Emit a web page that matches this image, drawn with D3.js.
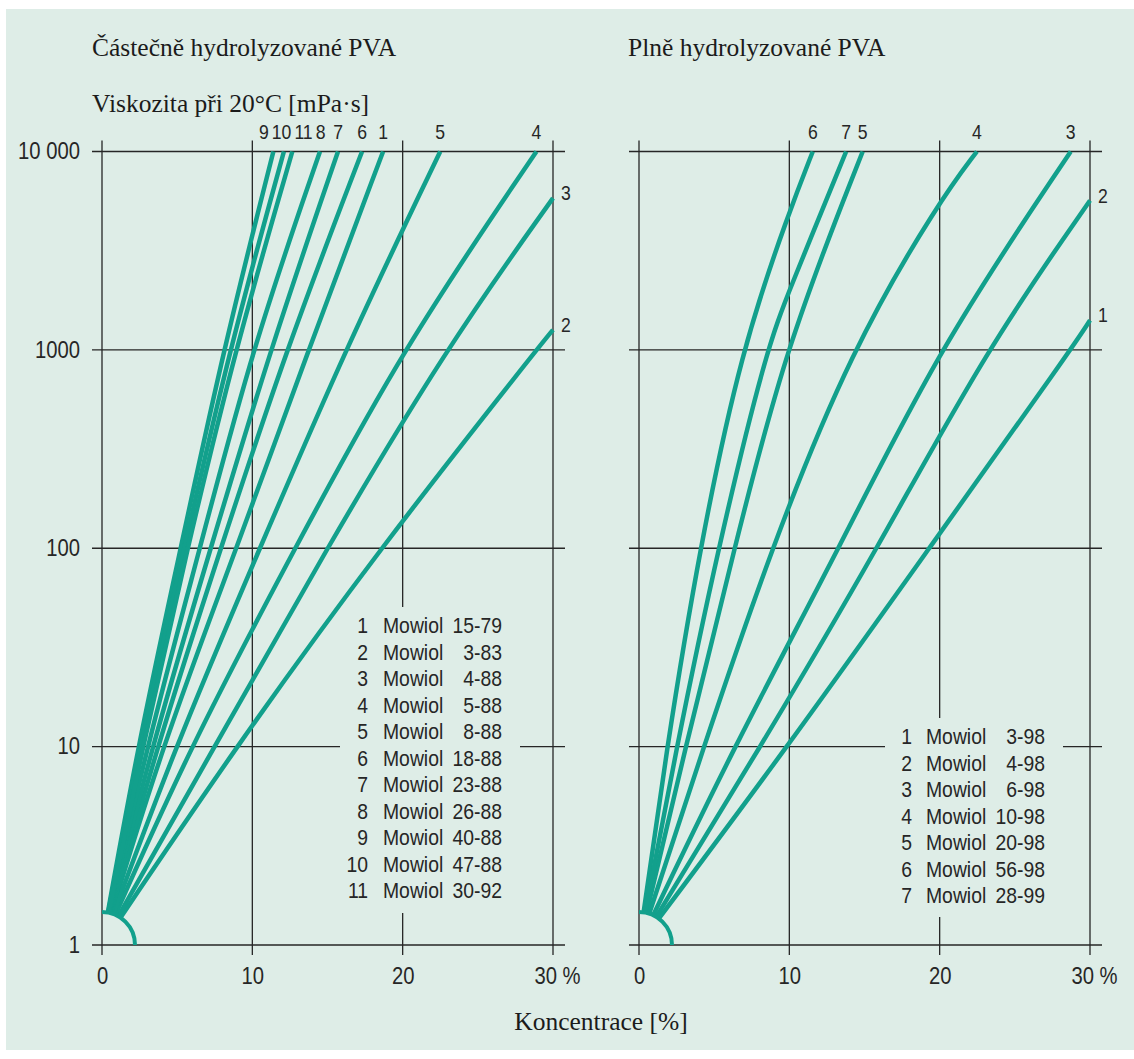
<!DOCTYPE html>
<html lang="cs">
<head>
<meta charset="UTF-8">
<title>Viskozita Mowiol</title>
<script src="https://cdn.jsdelivr.net/npm/d3@7"></script>
<style>
    html, body {
        margin: 0;
        background: #fff;
    }
    .serif { font-family: "Liberation Serif", "DejaVu Serif", serif; fill: #1b1b1b; }
    .cond { font-family: "Liberation Sans", Arial, sans-serif; fill: #262626; }
</style>
</head>
<body>
<script>

    // ---- data ----
    var yTicks = [1, 10, 100, 1000, 10000];
    var yTickLabels = ["1", "10", "100", "1000", "10 000"];
    var xTicks = [0, 10, 20, 30];
    var xTickLabels = ["0", "10", "20", "30 %"];

    // concentration [%], viscosity [mPa·s]
    var leftIds = [1, 2, 3, 4, 5, 6, 7, 8, 9, 10, 11];
    var leftCodes = ["15-79", "3-83", "4-88", "5-88", "8-88", "18-88", "23-88", "26-88", "40-88", "47-88", "30-92"];
    var leftCurves = [
        [[0, 1], [3.97, 10], [8.96, 100], [13.73, 1000], [18.7, 10000]],
        [[0, 1], [8.9, 10], [18.5, 100], [28.9, 1000], [30, 1262]],
        [[0, 1], [7.5, 10], [14.95, 100], [22.82, 1000], [30, 5820]],
        [[0, 1], [5.85, 10], [12.84, 100], [19.94, 1000], [28.9, 10000]],
        [[0, 1], [4.86, 10], [10.5, 100], [16.17, 1000], [22.5, 10000]],
        [[0, 1], [3.64, 10], [7.9, 100], [12.24, 1000], [17.3, 10000]],
        [[0, 1], [3.3, 10], [7.23, 100], [11.18, 1000], [15.7, 10000]],
        [[0, 1], [2.97, 10], [6.52, 100], [9.96, 1000], [14.5, 10000]],
        [[0, 1], [2.37, 10], [5.24, 100], [8.07, 1000], [11.4, 10000]],
        [[0, 1], [2.53, 10], [5.46, 100], [8.47, 1000], [12.1, 10000]],
        [[0, 1], [2.7, 10], [5.68, 100], [8.85, 1000], [12.66, 10000]]
    ];

    var rightIds = [1, 2, 3, 4, 5, 6, 7];
    var rightCodes = ["3-98", "4-98", "6-98", "10-98", "20-98", "56-98", "28-99"];
    var rightCurves = [
        [[0, 1], [9.9, 10], [19.3, 100], [28.72, 1000], [30, 1409]],
        [[0, 1], [8.1, 10], [15.88, 100], [23.08, 1000], [30, 5660]],
        [[0, 1], [6.3, 10], [13.33, 100], [19.87, 1000], [28.72, 10000]],
        [[0, 1], [4.3, 10], [8.79, 100], [14.1, 1000], [20, 5660], [22.48, 10000]],
        [[0, 1], [3.1, 10], [6.36, 100], [9.68, 1000], [14.88, 10000]],
        [[0, 1], [1.85, 10], [4.03, 100], [6.8, 1000], [10, 5000], [11.56, 10000]],
        [[0, 1], [2.5, 10], [5.25, 100], [8.46, 1000], [10, 2000], [13.78, 10000]]
    ];

    var titleLeft = "Částečně hydrolyzované PVA";
    var titleRight = "Plně hydrolyzované PVA";
    var yTitle = "Viskozita při 20°C [mPa·s]";
    var xTitle = "Koncentrace [%]";

    // ---- layout ----
    var width = 1134, height = 1059;
    var bg = "#deede7", ink = "#262626", teal = "#12a08c";
    var SX = 0.88; // horizontal squeeze -> condensed look

    var y = d3.scaleLog().domain([1, 10000]).range([945, 151.5]);

    var panels = [
        {ids: leftIds, codes: leftCodes, curves: leftCurves, x: d3.scaleLinear().domain([0, 30]).range([102, 553]),
            legend: {numX: 368, nameX: 383, codeX: 502, top: 633, box: [340, 607, 180, 306]}},
        {ids: rightIds, codes: rightCodes, curves: rightCurves, x: d3.scaleLinear().domain([0, 30]).range([639, 1090]),
            legend: {numX: 912, nameX: 926, codeX: 1045, top: 744, box: [885, 718, 178, 199]}}
    ];

    function cond(sel, size) {
        return sel.attr("class", "cond").style("font-size", size + "px").attr("transform", "scale(" + SX + ",1)");
    }

    var svg = d3.select("body").append("svg").attr("width", width).attr("height", height);
    svg.append("rect").attr("x", 6).attr("y", 9).attr("width", width - 6).attr("height", 1041).attr("fill", bg);

    var defs = svg.append("defs");
    var arcR = 33;

    var line = d3.line().curve(d3.curveBasis);

    panels.forEach(function (p, pi) {
        var x = p.x;
        var g = svg.append("g");
        var xa = x.range()[0], xb = x.range()[1];

        // grid
        g.selectAll("line.h").data(yTicks).enter().append("line")
            .attr("x1", xa - 10).attr("x2", xb + 12)
            .attr("y1", function (d) { return y(d); }).attr("y2", function (d) { return y(d); })
            .attr("stroke", ink).attr("stroke-width", 1.3);
        g.selectAll("line.v").data(xTicks).enter().append("line")
            .attr("x1", function (d) { return x(d); }).attr("x2", function (d) { return x(d); })
            .attr("y1", y(10000) - 11).attr("y2", y(1) + 10)
            .attr("stroke", ink).attr("stroke-width", 1.3);

        // legend knocks out the grid
        var b = p.legend.box;
        g.append("rect").attr("x", b[0]).attr("y", b[1]).attr("width", b[2]).attr("height", b[3]).attr("fill", bg);

        // mask: curves stop at the quarter circle around origin
        var m = defs.append("mask").attr("id", "m" + pi).attr("maskUnits", "userSpaceOnUse")
            .attr("x", 0).attr("y", 0).attr("width", width).attr("height", height);
        m.append("rect").attr("width", width).attr("height", height).attr("fill", "#fff");
        m.append("circle").attr("cx", x(0)).attr("cy", y(1)).attr("r", arcR).attr("fill", "#000");

        g.append("g").attr("mask", "url(#m" + pi + ")")
            .selectAll("path").data(p.curves).enter().append("path")
            .attr("d", function (d) { return line(d.map(function (q) { return [x(q[0]), y(q[1])]; })); })
            .attr("fill", "none").attr("stroke", teal).attr("stroke-width", 4.5);

        var ap = d3.path();
        ap.moveTo(x(0), y(1) - arcR);
        ap.arc(x(0), y(1), arcR, -Math.PI / 2, 0);
        g.append("path").attr("d", ap.toString()).attr("fill", "none").attr("stroke", teal).attr("stroke-width", 4);

        // x tick labels
        var xAxis = d3.axisBottom(x).tickValues(xTicks).tickSize(0).tickPadding(23)
            .tickFormat(function (d, i) { return xTickLabels[i]; });
        var gx = g.append("g").attr("transform", "translate(0," + y(1) + ")").call(xAxis);
        gx.select(".domain").remove();
        gx.attr("font-family", null).attr("font-size", null);
        cond(gx.selectAll("text"), 23).attr("fill", ink)
            .attr("x", function (d) { return d === 30 ? 4 / SX : 0; });

        // curve end labels
        var top = [], side = [];
        p.curves.forEach(function (c, i) {
            var last = c[c.length - 1];
            if (last[1] >= 10000) top.push({id: p.ids[i], x: x(last[0])});
            else side.push({id: p.ids[i], y: y(last[1])});
        });
        var tl = cond(g.selectAll("text.top").data(top).enter().append("text"), 20)
            .attr("text-anchor", "middle")
            .attr("y", y(10000) - 12).text(function (d) { return d.id; });
        tl.each(function (d) { d.w = this.getComputedTextLength() * SX; });
        top.sort(function (a, b) { return a.x - b.x; });
        for (var it = 0; it < 60; it++) {
            for (var k = 0; k < top.length - 1; k++) {
                var a = top[k], c2 = top[k + 1], need = (a.w + c2.w) / 2 + 3, dd = c2.x - a.x;
                if (dd < need) { a.x -= (need - dd) / 2; c2.x += (need - dd) / 2; }
            }
        }
        tl.attr("x", function (d) { return d.x / SX; });
        cond(g.selectAll("text.side").data(side).enter().append("text"), 20)
            .attr("x", (xb + 8) / SX).attr("y", function (d) { return d.y + 2; }).text(function (d) { return d.id; });

        // legend
        var L = p.legend;
        var rows = g.selectAll("g.row").data(p.ids).enter().append("g")
            .attr("transform", function (d, i) { return "translate(0," + (L.top + i * 26.5) + ")"; });
        cond(rows.append("text"), 22).attr("text-anchor", "end")
            .attr("x", L.numX / SX).text(function (d) { return d; });
        cond(rows.append("text"), 22)
            .attr("x", L.nameX / SX).text("Mowiol");
        cond(rows.append("text"), 22).attr("text-anchor", "end")
            .attr("x", L.codeX / SX).text(function (d, i) { return p.codes[i]; });
    });

    // y tick labels (left panel only)
    var yAxis = d3.axisLeft(y).tickValues(yTicks).tickSize(0).tickPadding(11)
        .tickFormat(function (d, i) { return yTickLabels[i]; });
    var gy = svg.append("g").attr("transform", "translate(91,0)").call(yAxis);
    gy.select(".domain").remove();
    gy.attr("font-family", null).attr("font-size", null);
    cond(gy.selectAll("text"), 23).attr("fill", ink).attr("x", -11 / SX);

    // titles
    svg.append("text").attr("class", "serif").style("font-size", "25.5px").attr("x", 92).attr("y", 56).text(titleLeft);
    svg.append("text").attr("class", "serif").style("font-size", "25.5px").attr("x", 628).attr("y", 56).text(titleRight);
    svg.append("text").attr("class", "serif").style("font-size", "25.5px").attr("x", 92).attr("y", 112).text(yTitle);
    svg.append("text").attr("class", "serif").style("font-size", "25.5px").attr("text-anchor", "middle")
        .attr("x", 601).attr("y", 1030).text(xTitle);

</script>
</body>
</html>
